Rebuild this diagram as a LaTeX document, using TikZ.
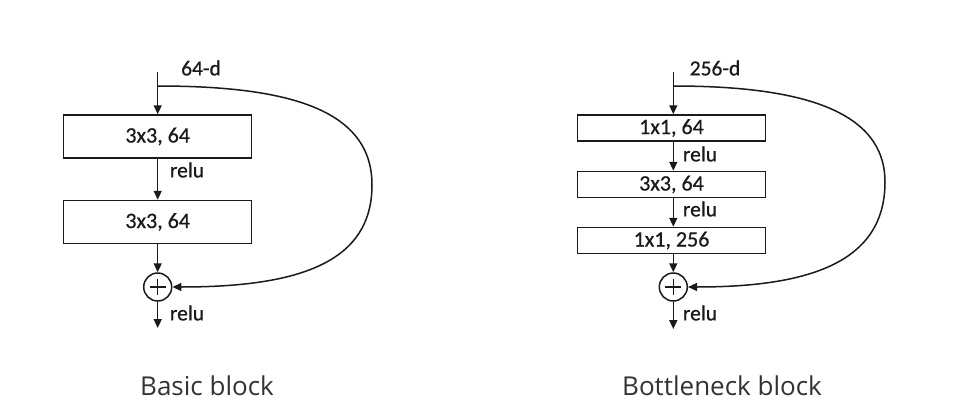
\documentclass[tikz,border=0pt]{standalone}
\usepackage{fontspec}
\setmainfont{Carlito}
\newfontfamily\inkfont[FakeBold=0.6]{Carlito}
\newfontfamily\capfont{Open Sans}
\usetikzlibrary{arrows.meta}
\definecolor{captxt}{HTML}{333333}
\definecolor{ink}{HTML}{1A1A1A}
\tikzset{
  x=1pt, y=-1pt,
  conv/.style={draw=ink, line width=1.5pt, minimum height=#1, minimum width=188pt, inner sep=0pt, text=ink, font=\inkfont\fontsize{22}{24}\selectfont},
  conv/.default=43pt,
  lbl/.style={font=\inkfont\fontsize{21.5}{24}\selectfont, text=ink, inner sep=0pt},
  flow/.style={draw=ink, line width=1.5pt, -{Triangle[length=9pt,width=8pt]}},
  plusnode/.style={draw=ink, line width=1.5pt, circle, minimum size=28pt, inner sep=0pt,
    path picture={\draw[ink, line width=1.5pt] ([xshift=-8pt]path picture bounding box.center) -- ([xshift=8pt]path picture bounding box.center);
                  \draw[ink, line width=1.5pt] ([yshift=-8pt]path picture bounding box.center) -- ([yshift=8pt]path picture bounding box.center);}},
  caption/.style={font=\capfont\fontsize{26}{28}\selectfont, text=captxt, inner sep=0pt}
}
\begin{document}
\begin{tikzpicture}
\useasboundingbox[fill=white] (0,0) rectangle (954,418);
% ---------- Basic block ----------
\coordinate (Ain) at (157.7,72);
\coordinate (Asplit) at (157.7,86);
\node[conv] (A1) at (157.7,136.5) {3x3, 64};
\node[conv] (A2) at (157.7,222) {3x3, 64};
\node[plusnode] (Aplus) at (157.7,287) {};
\coordinate (Aout) at (157.7,328);
\node[lbl] (Ad) at (201,68) {64-d};
\node[lbl] (Ar1) at (187,170) {relu};
\node[lbl] (Ar2) at (187,313) {relu};
\draw[flow] (Ain) -- (A1.north);
\draw[flow] (A1.south) -- (A2.north);
\draw[flow] (A2.south) -- (Aplus.north);
\draw[flow] (Aplus.south) -- (Aout);
\draw[flow] (Asplit) .. controls (290,86) and (372,110) .. (372,185)
  .. controls (372,262) and (300,287) .. (Aplus.east);
% ---------- Bottleneck block ----------
\coordinate (Bin) at (673.3,72);
\coordinate (Bsplit) at (673.3,86);
\node[conv=26pt] (B1) at (671.5,128) {1x1, 64};
\node[conv=26pt] (B2) at (671.5,184.5) {3x3, 64};
\node[conv=26pt] (B3) at (671.5,240.5) {1x1, 256};
\node[plusnode] (Bplus) at (673.3,287) {};
\coordinate (Bout) at (673.3,329);
\node[lbl] (Bd) at (715,68) {256-d};
\node[lbl] (Br1) at (700,154) {relu};
\node[lbl] (Br2) at (700,209) {relu};
\node[lbl] (Br3) at (700,313) {relu};
\draw[flow] (Bin) -- (B1.north -| Bin);
\draw[flow] (B1.south -| Bin) -- (B2.north -| Bin);
\draw[flow] (B2.south -| Bin) -- (B3.north -| Bin);
\draw[flow] (B3.south -| Bin) -- (Bplus.north);
\draw[flow] (Bplus.south) -- (Bout);
\draw[flow] (Bsplit) .. controls (800,86) and (885,110) .. (885,182)
  .. controls (885,262) and (810,287) .. (Bplus.east);
% ---------- captions ----------
\node[caption] (capA) at (207,386) {Basic block};
\node[caption] (capB) at (722,386) {Bottleneck block};
\end{tikzpicture}
\end{document}
